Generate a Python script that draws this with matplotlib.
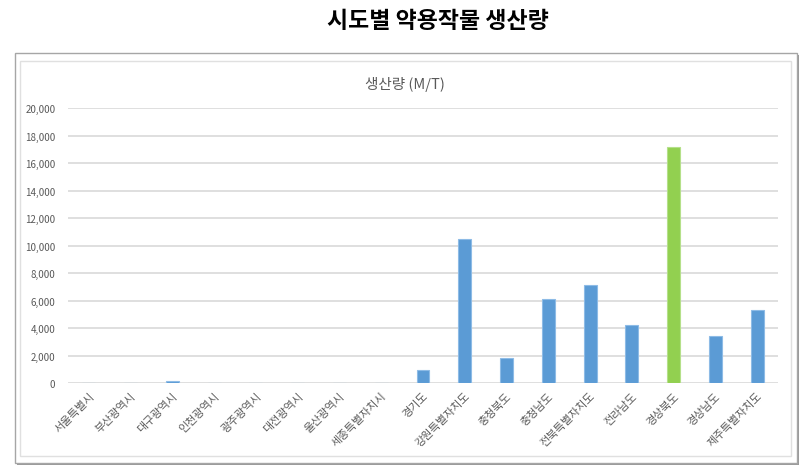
import matplotlib.pyplot as plt
from matplotlib.patches import Rectangle
from matplotlib.ticker import FuncFormatter

plt.rcParams['font.family'] = ['Noto Sans CJK KR', 'DejaVu Sans']

# 데이터
regions = ['서울특별시', '부산광역시', '대구광역시', '인천광역시', '광주광역시',
           '대전광역시', '울산광역시', '세종특별자치시', '경기도', '강원특별자치도',
           '충청북도', '충청남도', '전북특별자치도', '전라남도', '경상북도',
           '경상남도', '제주특별자치도']
production = [0, 0, 200, 0, 0, 0, 0, 0, 1000, 10500, 1850, 6100, 7150, 4200, 17200, 3400, 5350]
highlight = '경상북도'

W, H = 812, 477
fig = plt.figure(figsize=(W / 100, H / 100), dpi=100)


def px(x0, y0, x1, y1):
    # 픽셀 좌표 -> figure 좌표 (위에서부터)
    return x0 / W, 1 - y1 / H, (x1 - x0) / W, (y1 - y0) / H


# 바깥 상자 + 그림자
l, b, w, h = px(15, 54, 797, 464)
fig.patches.append(Rectangle((l + 2 / W, b - 2 / H), w, h, transform=fig.transFigure,
                             facecolor='#9a9a9a', edgecolor='none', zorder=0))
fig.patches.append(Rectangle((l, b), w, h, transform=fig.transFigure,
                             facecolor='white', edgecolor='#a6a6a6', linewidth=1, zorder=1))
l, b, w, h = px(20, 62, 791, 457)
fig.patches.append(Rectangle((l, b), w, h, transform=fig.transFigure,
                             facecolor='white', edgecolor='#e0e0e0', linewidth=1, zorder=2))

fig.text(438 / W, 1 - 22 / H, '시도별 약용작물 생산량', ha='center', va='center',
         fontsize=16.5, fontweight='bold', color='black')

ax = fig.add_axes(px(68, 109, 778, 384.3))
ax.set_zorder(3)
ax.patch.set_alpha(0)

colors = ['#92d050' if r == highlight else '#5b9bd5' for r in regions]
edges = ['#b5e08a' if r == highlight else '#8dbbe6' for r in regions]
ax.bar(range(len(regions)), production, width=0.31, color=colors,
       edgecolor=edges, linewidth=0.8, zorder=3)

ax.set_xlim(-0.5, len(regions) - 0.5)
ax.set_ylim(0, 20000)
ax.set_yticks(range(0, 20001, 2000))
ax.yaxis.set_major_formatter(FuncFormatter(lambda v, p: f'{int(v):,}'))
ax.grid(axis='y', color='#d9d9d9', linewidth=1.2, zorder=0)
ax.set_axisbelow(True)
for s in ax.spines.values():
    s.set_visible(False)
ax.tick_params(axis='y', length=0, pad=9, labelsize=7, labelcolor='#595959')
ax.tick_params(axis='x', length=0, pad=5, labelsize=8, labelcolor='#595959')
ax.set_xticks(range(len(regions)))
ax.set_xticklabels(regions, rotation=45, ha='right', rotation_mode='anchor')

fig.text(405 / W, 1 - 85 / H, '생산량 (M/T)', ha='center', va='center',
         fontsize=10.5, color='#595959')

fig.savefig('out.png', dpi=100)
